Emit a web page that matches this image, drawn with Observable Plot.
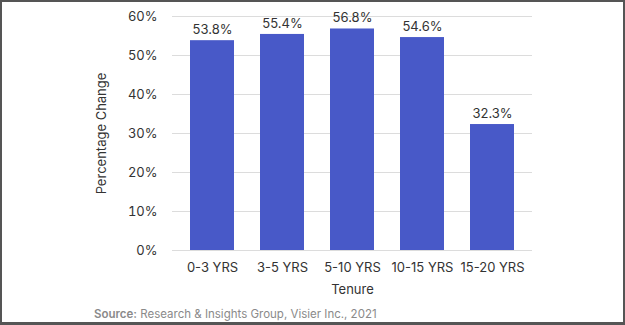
<!DOCTYPE html>
<html>
<head>
<meta charset="utf-8">
<script src="https://cdn.jsdelivr.net/npm/d3@7"></script>
<script src="https://cdn.jsdelivr.net/npm/@observablehq/plot@0.6"></script>
<style>
  html, body { margin: 0; padding: 0; background: #fff; }
  #wrap { position: relative; width: 625px; height: 325px; overflow: hidden; background: #fff; font-family: Inter, "Open Sans", sans-serif; }
  #chart { position: absolute; left: 0; top: 0; }
  #frame { position: absolute; left: 0; top: 0; width: 625px; height: 325px; box-sizing: border-box; border: 2px solid #555; border-bottom-width: 3px; pointer-events: none; }
  #caption { position: absolute; left: 94px; top: 307px; font-size: 11.5px; color: #8a8a8a; white-space: nowrap; }
  #caption b { font-weight: 600; }
</style>
</head>
<body>
<div id="wrap">
  <div id="chart"></div>
  <div id="caption"><b>Source:</b> Research &amp; Insights Group, Visier Inc., 2021</div>
  <div id="frame"></div>
</div>
<script>
const categories = ["0-3 YRS", "3-5 YRS", "5-10 YRS", "10-15 YRS", "15-20 YRS"];
const values = [53.8, 55.4, 56.8, 54.6, 32.3];
const yTicks = [0, 10, 20, 30, 40, 50, 60];
const yLabel = "Percentage Change";
const xLabel = "Tenure";

const data = categories.map((c, i) => ({tenure: c, value: values[i]}));

const chart = Plot.plot({
  width: 625,
  height: 300,
  marginLeft: 172,
  marginRight: 93,
  marginTop: 16,
  marginBottom: 50,
  style: {fontFamily: "Inter, 'Open Sans', sans-serif", fontSize: "12.5px", color: "#333", background: "transparent"},
  x: {domain: categories, paddingInner: 0.37, paddingOuter: 0.25, label: null},
  y: {domain: [0, 60], ticks: yTicks, label: null},
  marks: [
    Plot.ruleY(yTicks, {stroke: "#dcdcdc", strokeWidth: 1}),
    Plot.barY(data, {x: "tenure", y: "value", fill: "#4859c8"}),
    Plot.text(data, {x: "tenure", y: "value", text: d => d.value.toFixed(1) + "%", dy: -11, fill: "#333", fontSize: 13}),
    Plot.axisY({ticks: yTicks, tickFormat: d => d + "%", tickSize: 0, tickPadding: 15, fontSize: 13, label: null}),
    Plot.axisX({tickSize: 0, tickPadding: 12, fontSize: 13, label: null}),
    Plot.text([yLabel], {frameAnchor: "left", dx: -71, rotate: -90, textAnchor: "middle", lineAnchor: "middle", fontSize: 13, fill: "#333"}),
    Plot.text([xLabel], {frameAnchor: "bottom", dy: 39, textAnchor: "middle", lineAnchor: "middle", fontSize: 13, fill: "#333"})
  ]
});
document.getElementById("chart").appendChild(chart);
</script>
</body>
</html>
